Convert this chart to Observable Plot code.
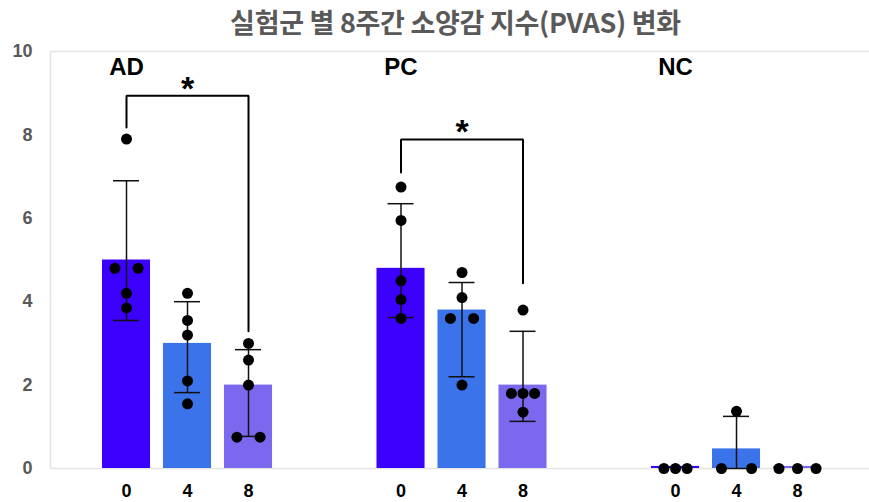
<!DOCTYPE html>
<html><head><meta charset="utf-8">
<script src="https://cdn.jsdelivr.net/npm/d3@7"></script>
<script src="https://cdn.jsdelivr.net/npm/@observablehq/plot@0.6"></script>
<style>
body{margin:0;background:#fff;}
#title{width:869px;height:38px;box-sizing:border-box;padding-left:42px;text-align:center;
  font-family:"Noto Sans CJK KR",sans-serif;font-weight:700;font-size:27px;line-height:44px;color:#595959;letter-spacing:-0.3px;}
#chart [aria-label^="x-axis"] text{font-size:18px;font-weight:bold;fill:#000;}
#chart [aria-label^="y-axis"] text{font-size:18px;font-weight:bold;fill:#595959;}
</style></head><body>
<div id="title">실험군 별 8주간 소양감 지수(PVAS) 변화</div>
<div id="chart"></div>
<script>
// ---- data ----
const groups = ["AD", "PC", "NC"];
const weeks = ["0", "4", "8"];
const weekColors = ["#3c00ff", "#3b73ea", "#7a68ee"];
// bar means, group-major order (AD 0,4,8 / PC 0,4,8 / NC 0,4,8)
const means   = [5.0, 3.0, 2.0, 4.8, 3.8, 2.0, 0.05, 0.47, 0.05];
const errLow  = [3.55, 1.82, 0.77, 3.62, 2.2, 1.13, 0, 0, 0];
const errHigh = [6.9, 4.0, 2.85, 6.35, 4.46, 3.29, 0, 1.25, 0];
// individual points
const pointGroup = ["AD","AD","AD","AD","AD", "AD","AD","AD","AD","AD", "AD","AD","AD","AD","AD",
                    "PC","PC","PC","PC","PC", "PC","PC","PC","PC","PC", "PC","PC","PC","PC","PC",
                    "NC","NC","NC", "NC","NC","NC", "NC","NC","NC"];
const pointWeek  = ["0","0","0","0","0", "4","4","4","4","4", "8","8","8","8","8",
                    "0","0","0","0","0", "4","4","4","4","4", "8","8","8","8","8",
                    "0","0","0", "4","4","4", "8","8","8"];
const pointValue = [7.9, 4.8, 4.8, 4.2, 3.85,  4.2, 3.55, 3.2, 2.1, 1.55,  3.0, 2.6, 2.0, 0.75, 0.75,
                    6.75, 5.95, 4.5, 4.05, 3.6,  4.7, 4.1, 3.6, 3.6, 2.0,  3.8, 1.8, 1.8, 1.8, 1.35,
                    0, 0, 0,  1.37, 0, 0,  0, 0, 0];
const pointSide  = [0, -1, 1, 0, 0,  0, 0, 0, 0, 0,  0, 0, 0, -1, 1,
                    0, 0, 0, 0, 0,  0, 0, -1, 1, 0,  0, -1, 0, 1, 0,
                    -1, 0, 1,  0, -1.3, 1.3,  -1.6, 0, 1.6];
// significance brackets (between week 0 and week 8)
const bracketGroup = ["AD", "PC"];
const bracketTop = [8.94, 7.89];
const bracketLeftEnd = [8.18, 7.1];
const bracketRightEnd = [3.29, 4.44];
const bracketLabel = ["*", "*"];
const yTicks = [0, 2, 4, 6, 8, 10];

// ---- layout helpers ----
const groupGap = 4.5, halfBar = 0.394, capHalf = 0.213, sideStep = 0.19;
const xDomain = [-1.246, 12.18];
const pos = (g, w) => groups.indexOf(g) * groupGap + weeks.indexOf(w);

const bars = [];
groups.forEach((g, gi) => weeks.forEach((w, wi) => {
  const i = gi * 3 + wi;
  bars.push({g, w, p: pos(g, w), mean: means[i], lo: errLow[i], hi: errHigh[i]});
}));
const errBars = bars.filter(d => d.hi > d.lo);
const points = pointValue.map((v, i) => ({g: pointGroup[i], w: pointWeek[i], v, side: pointSide[i]}));
const bracketPts = [];
bracketGroup.forEach((g, i) => {
  bracketPts.push({g, x: pos(g, "0"), y: bracketLeftEnd[i]});
  bracketPts.push({g, x: pos(g, "0"), y: bracketTop[i]});
  bracketPts.push({g, x: pos(g, "8"), y: bracketTop[i]});
  bracketPts.push({g, x: pos(g, "8"), y: bracketRightEnd[i]});
});
const stars = bracketGroup.map((g, i) => ({x: (pos(g, "0") + pos(g, "8")) / 2, y: bracketTop[i], t: bracketLabel[i]}));
const tickPos = bars.map(d => d.p);

const chart = Plot.plot({
  width: 869, height: 464,
  marginLeft: 50, marginRight: 0, marginTop: 13, marginBottom: 34,
  style: {fontFamily: "'Liberation Sans', Arial, sans-serif", background: "#fff"},
  x: {type: "linear", domain: xDomain, ticks: tickPos, tickFormat: (d, i) => weeks[i % 3], tickSize: 0, tickPadding: 16, label: null},
  y: {domain: [0, 10], ticks: yTicks, tickSize: 0, tickPadding: 18, label: null},
  color: {domain: weeks, range: weekColors},
  marks: [
    Plot.ruleY([0, 10], {stroke: "#e4e4e4", strokeWidth: 1.5}),
    Plot.ruleX([xDomain[0]], {stroke: "#e4e4e4", strokeWidth: 1.5}),
    Plot.rectY(bars, {x1: d => d.p - halfBar, x2: d => d.p + halfBar, y: "mean", fill: "w"}),
    Plot.ruleX(errBars, {x: "p", y1: "lo", y2: "hi", stroke: "#111", strokeWidth: 1.5}),
    Plot.ruleY(errBars, {y: "hi", x1: d => d.p - capHalf, x2: d => d.p + capHalf, stroke: "#111", strokeWidth: 1.5}),
    Plot.ruleY(errBars, {y: "lo", x1: d => d.p - capHalf, x2: d => d.p + capHalf, stroke: "#111", strokeWidth: 1.5}),
    Plot.dot(points, {x: d => pos(d.g, d.w) + d.side * sideStep, y: "v", r: 5.5, fill: "#000"}),
    Plot.line(bracketPts, {x: "x", y: "y", z: "g", stroke: "#000", strokeWidth: 2, strokeLinejoin: "miter"}),
    Plot.text(stars, {x: "x", y: "y", text: "t", fontSize: 34, fontWeight: "bold", dy: 4, lineAnchor: "bottom"}),
    Plot.text(groups, {x: g => pos(g, "0"), y: 9.62, text: d => d, fontSize: 24, fontWeight: "bold", fill: "#000"})
  ]
});
document.getElementById("chart").appendChild(chart);
</script>
</body></html>
